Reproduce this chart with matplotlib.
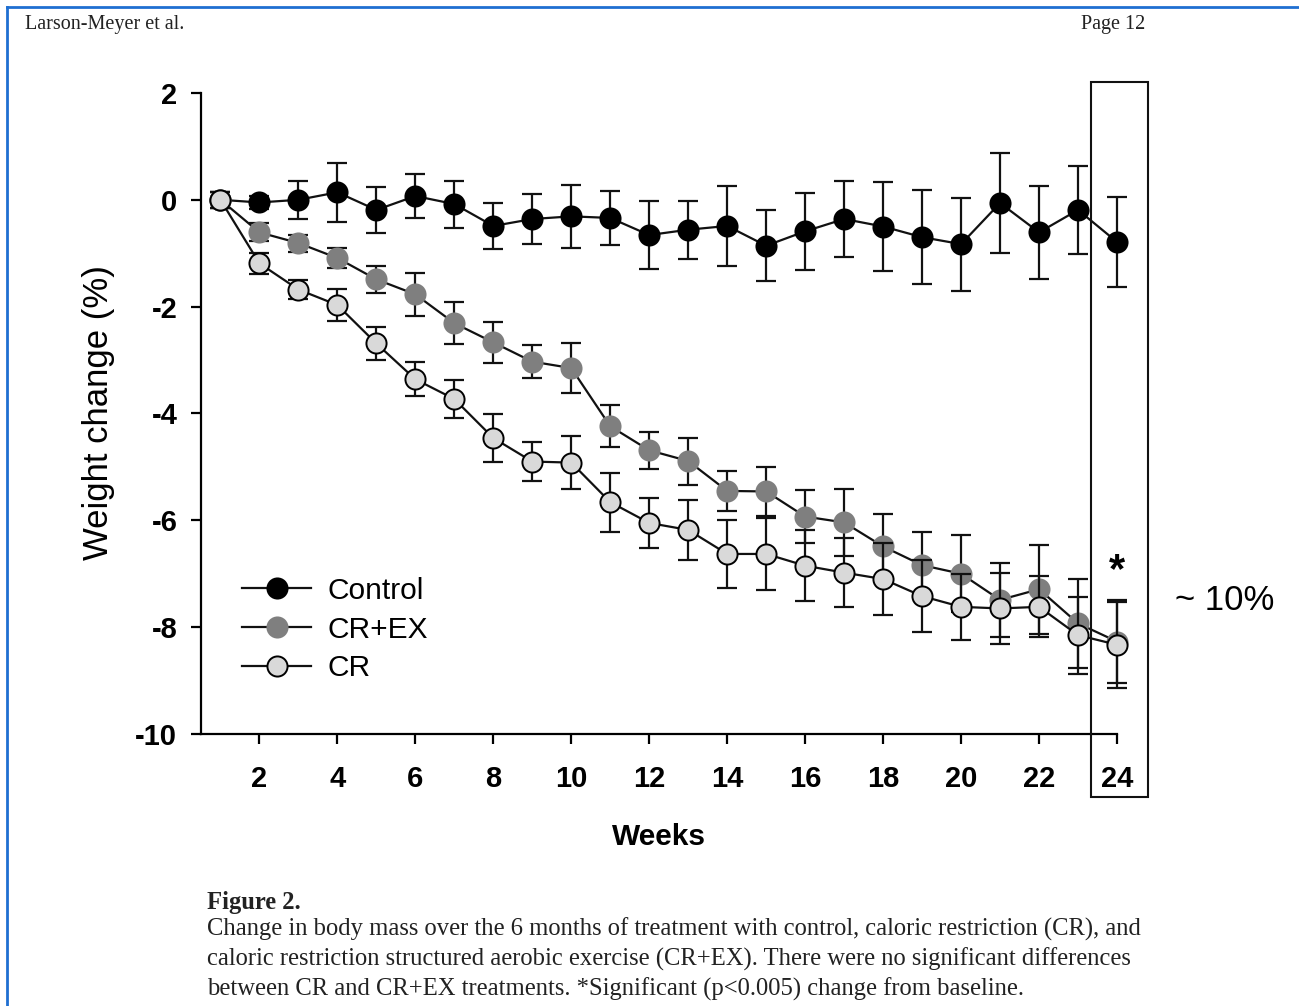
import matplotlib
matplotlib.use("Agg")
import matplotlib.pyplot as plt
from matplotlib.patches import Rectangle
from matplotlib.lines import Line2D

# data (weight change, %)
weeks = list(range(1, 25))
control = [0, -0.05, 0.0, 0.14, -0.19, 0.07, -0.08, -0.49, -0.36, -0.31, -0.34, -0.66,
           -0.56, -0.49, -0.86, -0.59, -0.36, -0.50, -0.70, -0.83, -0.06, -0.61, -0.19, -0.79]
control_err = [0.15, 0.13, 0.36, 0.55, 0.43, 0.42, 0.44, 0.43, 0.47, 0.59, 0.51, 0.63,
               0.54, 0.75, 0.66, 0.72, 0.72, 0.84, 0.88, 0.87, 0.93, 0.87, 0.82, 0.84]
crex = [0, -0.61, -0.81, -1.09, -1.49, -1.77, -2.31, -2.67, -3.03, -3.15, -4.24, -4.69,
        -4.89, -5.45, -5.46, -5.93, -6.04, -6.49, -6.84, -7.00, -7.49, -7.29, -7.93, -8.27]
crex_err = [0.15, 0.17, 0.16, 0.19, 0.25, 0.40, 0.39, 0.38, 0.31, 0.47, 0.39, 0.35,
            0.44, 0.37, 0.46, 0.50, 0.62, 0.60, 0.62, 0.72, 0.69, 0.83, 0.84, 0.78]
cr = [0, -1.19, -1.68, -1.97, -2.69, -3.36, -3.73, -4.46, -4.90, -4.92, -5.66, -6.05,
      -6.18, -6.63, -6.63, -6.85, -6.98, -7.10, -7.42, -7.62, -7.65, -7.62, -8.15, -8.33]
cr_err = [0.15, 0.19, 0.17, 0.30, 0.30, 0.32, 0.35, 0.45, 0.36, 0.49, 0.55, 0.47,
          0.56, 0.64, 0.67, 0.67, 0.65, 0.67, 0.67, 0.62, 0.67, 0.57, 0.72, 0.80]

series_names = ["Control", "CR+EX", "CR"]
x_ticks = list(range(2, 25, 2))
y_ticks = list(range(-10, 3, 2))

caption_lines = [
    "Change in body mass over the 6 months of treatment with control, caloric restriction (CR), and",
    "caloric restriction structured aerobic exercise (CR+EX). There were no significant differences",
    "between CR and CR+EX treatments. *Significant (p<0.005) change from baseline.",
]

SANS = ["Liberation Sans", "DejaVu Sans"]
SERIF = ["Liberation Serif", "DejaVu Serif"]

plt.rcParams["axes.unicode_minus"] = False

fig = plt.figure(figsize=(12.99, 10.06), dpi=100)
ax = fig.add_axes([0.1547, 0.2704, 0.7052, 0.6372])

styles = [
    dict(mfc="black", mec="black"),
    dict(mfc="#7f7f7f", mec="#7f7f7f"),
    dict(mfc="#d9d9d9", mec="black"),
]
handles = []
for k, (vals, errs, st) in enumerate(zip([control, crex, cr],
                                         [control_err, crex_err, cr_err], styles)):
    z = 3 + k
    ax.errorbar(weeks, vals, yerr=errs, fmt="none", ecolor="#111111", elinewidth=1.6,
                capsize=7.5, capthick=1.6, zorder=z, clip_on=False)
    ax.plot(weeks, vals, "-o", color="#111111", lw=1.6, ms=14.5, mew=1.4,
            zorder=z + 0.5, clip_on=False, **st)
    handles.append(Line2D([], [], color="#111111", lw=1.6, marker="o", ms=14.5, mew=1.4, **st))

ax.set_xlim(0.5, 24)
ax.set_ylim(-10, 2)
ax.set_xticks(x_ticks)
ax.set_yticks(y_ticks)
for s in ["top", "right"]:
    ax.spines[s].set_visible(False)
for s in ["left", "bottom"]:
    ax.spines[s].set_linewidth(1.6)
ax.tick_params(direction="out", length=7, width=1.6)
ax.tick_params(axis="x", pad=15)
ax.tick_params(axis="y", pad=10)
for lab in ax.get_xticklabels() + ax.get_yticklabels():
    lab.set_family(SANS)
    lab.set_fontweight("bold")
    lab.set_fontsize(21)

ax.set_xlabel("Weeks", family=SANS, fontsize=21.5, fontweight="bold")
ax.xaxis.set_label_coords(0.5, -0.139)
ax.set_ylabel("Weight change (%)", family=SANS, fontsize=25)
ax.yaxis.set_label_coords(-0.094, 0.502)

leg = ax.legend(handles, series_names, loc="upper left", bbox_to_anchor=(0.045, 0.245),
                frameon=False, prop=dict(family=SANS, size=21.5), handlelength=2.3,
                handletextpad=0.55, labelspacing=0.36, borderpad=0, borderaxespad=0)

# highlight box around week 24
ax.add_patch(Rectangle((23.33, -11.18), 24.79 - 23.33, 2.21 + 11.18, fill=False,
                       lw=1.5, ec="#111111", clip_on=False, zorder=10))
ax.text(24, -6.95, "*", ha="center", va="center", family=SANS, fontsize=30,
        fontweight="bold")
fig.text(1175 / 1299, 1 - 600 / 1006, "~ 10%", ha="left", va="center", family=SANS,
         fontsize=25)

# page header
fig.text(25 / 1299, 1 - 25 / 1006, "Larson-Meyer et al.", ha="left", va="center",
         family=SERIF, fontsize=14.5, color="#222222")
fig.text(1145 / 1299, 1 - 25 / 1006, "Page 12", ha="right", va="center",
         family=SERIF, fontsize=14.5, color="#222222")

# caption
fig.text(207 / 1299, 1 - 903 / 1006, "Figure 2.", ha="left", va="center",
         family=SERIF, fontsize=17.7, fontweight="bold", color="#222222")
for i, line in enumerate(caption_lines):
    fig.text(207 / 1299, 1 - (929 + 30 * i) / 1006, line, ha="left", va="center",
             family=SERIF, fontsize=17.7, color="#222222")

# page frame
fig.add_artist(Line2D([7 / 1299, 7 / 1299], [0, 1 - 7 / 1006], color="#1f6fd1", lw=2))
fig.add_artist(Line2D([7 / 1299, 1], [1 - 7 / 1006, 1 - 7 / 1006], color="#1f6fd1", lw=2))

fig.savefig("out.png", dpi=100)
